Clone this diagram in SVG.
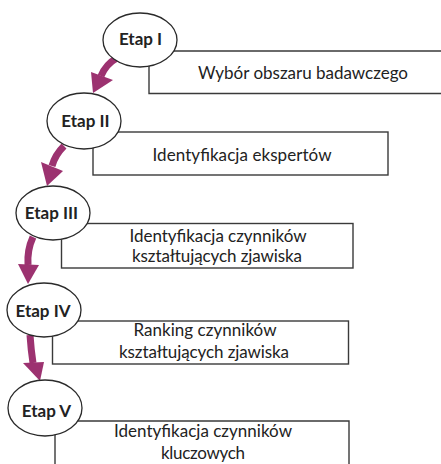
<svg xmlns="http://www.w3.org/2000/svg" width="441" height="464" viewBox="0 0 441 464">
<style>
.box{fill:#fff;stroke:#3a3a3a;stroke-width:1.4}
.oval{fill:#fff;stroke:#2a2a2a;stroke-width:1.3}
.lbl{font-family:Lato,"Liberation Sans",sans-serif;font-weight:bold;font-size:17px;fill:#222;text-anchor:middle}
.txt{font-family:Lato,"Liberation Sans",sans-serif;font-size:17px;fill:#222;text-anchor:middle}
.shaft{fill:none;stroke:#9c3270;stroke-width:7}
.head{fill:#9c3270}
</style>
<rect width="441" height="464" fill="#fff"/>
<g id="connectors">
<path class="shaft" d="M117 58 Q106 64 101 76"/>
<polygon class="head" points="91,72 113,80 93,93"/>
<path class="shaft" d="M64 146 Q55 155 52 166"/>
<polygon class="head" points="41,162 63,171 47,186"/>
<path class="shaft" d="M33 237 Q27 250 28 265"/>
<polygon class="head" points="18,264 39,265 28,284"/>
<path class="shaft" d="M30 335 Q31 350 33 363"/>
<polygon class="head" points="23,363 44,362 40,381"/>
</g>
<g id="etap1">
<path class="box" d="M150 51 H445 V93.5 H149 V60"/>
<ellipse class="oval" cx="140" cy="40" rx="37" ry="27"/>
<text class="lbl" x="140.5" y="44.5">Etap I</text>
<text class="txt" x="303" y="79" textLength="210">Wybór obszaru badawczego</text>
</g>
<g id="etap2">
<rect class="box" x="93" y="132" width="295" height="43"/>
<ellipse class="oval" cx="84" cy="121" rx="37" ry="28"/>
<text class="lbl" x="85.5" y="126.5">Etap II</text>
<text class="txt" x="242" y="161" textLength="179">Identyfikacja ekspertów</text>
</g>
<g id="etap3">
<rect class="box" x="61.5" y="223.5" width="291.5" height="44.5"/>
<ellipse class="oval" cx="53" cy="213" rx="37" ry="27"/>
<text class="lbl" x="51.5" y="219">Etap III</text>
<text class="txt" x="218" y="241.5" textLength="177">Identyfikacja czynników</text>
<text class="txt" x="217" y="261.5" textLength="170">kształtujących zjawiska</text>
</g>
<g id="etap4">
<rect class="box" x="52.5" y="321" width="296" height="43"/>
<ellipse class="oval" cx="44" cy="310" rx="37" ry="27"/>
<text class="lbl" x="43" y="316.5">Etap IV</text>
<text class="txt" x="205" y="336" textLength="143">Ranking czynników</text>
<text class="txt" x="204" y="358" textLength="170">kształtujących zjawiska</text>
</g>
<g id="etap5">
<path class="box" d="M55 470 V421 H349 V470"/>
<ellipse class="oval" cx="45" cy="408" rx="37" ry="28"/>
<text class="lbl" x="46.5" y="416.5">Etap V</text>
<text class="txt" x="203" y="437" textLength="178">Identyfikacja czynników</text>
<text class="txt" x="203" y="459" textLength="84">kluczowych</text>
</g>
</svg>
